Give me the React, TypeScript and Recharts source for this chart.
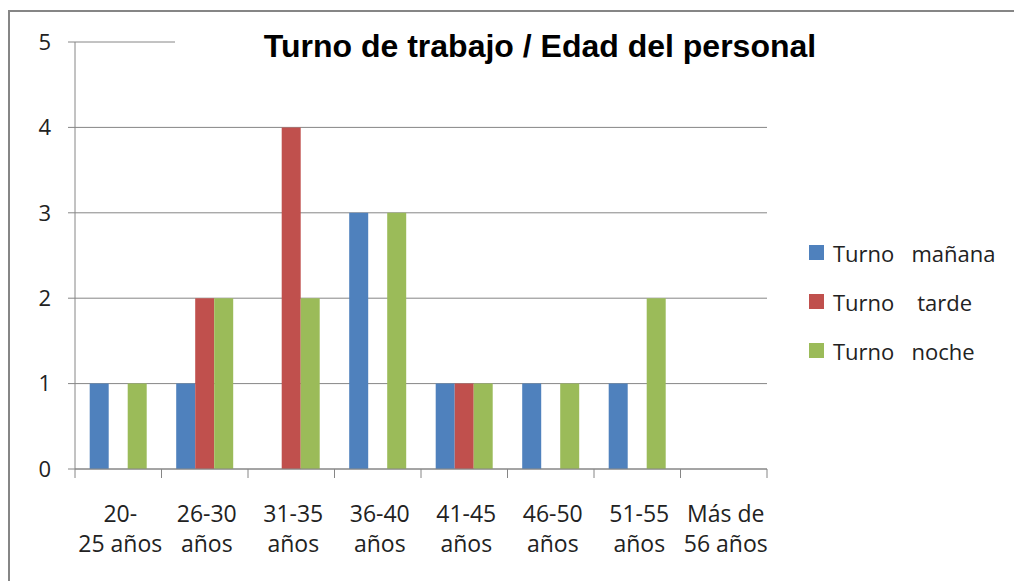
import React from "react";
import {
  BarChart,
  Bar,
  XAxis,
  YAxis,
  CartesianGrid,
} from "recharts";

const CATEGORIES = [
  "20-\n25 años",
  "26-30\naños",
  "31-35\naños",
  "36-40\naños",
  "41-45\naños",
  "46-50\naños",
  "51-55\naños",
  "Más de\n56 años",
];
const MANANA = [1, 1, 0, 3, 1, 1, 1, 0];
const TARDE = [0, 2, 4, 0, 1, 0, 0, 0];
const NOCHE = [1, 2, 2, 3, 1, 1, 2, 0];
const Y_TICKS = [0, 1, 2, 3, 4, 5];

const SERIES = [
  { key: "manana", name: "Turno   mañana", color: "#4F81BD" },
  { key: "tarde", name: "Turno    tarde", color: "#C0504D" },
  { key: "noche", name: "Turno   noche", color: "#9BBB59" },
];

const data = CATEGORIES.map((c, i) => ({
  cat: c,
  manana: MANANA[i],
  tarde: TARDE[i],
  noche: NOCHE[i],
}));

const W = 1014;
const H = 581;
const PLOT_LEFT = 75;
const PLOT_RIGHT = 767;
const PLOT_TOP = 42;
const PLOT_BOTTOM = 469;
const BAND = (PLOT_RIGHT - PLOT_LEFT) / CATEGORIES.length;
const GRAY = "#868686";
const FONT = "'Open Sans', sans-serif";

function CatTick(props: any) {
  const { x, payload, index } = props;
  const lines = String(payload.value).split("\n");
  return (
    <g>
      <line x1={x - BAND / 2} x2={x - BAND / 2} y1={PLOT_BOTTOM} y2={PLOT_BOTTOM + 9} stroke={GRAY} />
      {index === CATEGORIES.length - 1 && (
        <line x1={x + BAND / 2} x2={x + BAND / 2} y1={PLOT_BOTTOM} y2={PLOT_BOTTOM + 9} stroke={GRAY} />
      )}
      <text textAnchor="middle" fill="#222" fontSize={23} fontFamily={FONT}>
        {lines.map((l, i) => (
          <tspan key={i} x={x + 2} y={PLOT_BOTTOM + 53 + i * 30}>
            {l}
          </tspan>
        ))}
      </text>
    </g>
  );
}

export default function App() {
  return (
    <div style={{ position: "fixed", left: 0, top: 0, width: W, height: H, background: "#fff", overflow: "hidden" }}>
      <BarChart
        width={W}
        height={H}
        data={data}
        margin={{ top: PLOT_TOP, right: W - PLOT_RIGHT, bottom: 0, left: 0 }}
        barCategoryGap="17%"
        barGap={0}
      >
        <CartesianGrid vertical={false} stroke={GRAY} />
        <XAxis
          dataKey="cat"
          height={H - PLOT_BOTTOM}
          interval={0}
          tickLine={false}
          axisLine={{ stroke: GRAY }}
          tick={<CatTick />}
        />
        <YAxis
          width={PLOT_LEFT}
          domain={[0, 5]}
          ticks={Y_TICKS}
          tickSize={7}
          tickMargin={17}
          axisLine={{ stroke: GRAY }}
          tickLine={{ stroke: GRAY }}
          tick={{ fill: "#222", fontSize: 22, fontFamily: FONT }}
        />
        {SERIES.map((s) => (
          <Bar key={s.key} dataKey={s.key} name={s.name} fill={s.color} isAnimationActive={false} />
        ))}
      </BarChart>
      <div
        style={{
          position: "absolute",
          left: 809,
          top: 228,
          fontFamily: FONT,
          fontSize: 22,
          color: "#222",
        }}
      >
        {SERIES.map((s) => (
          <div key={s.key} style={{ height: 49, display: "flex", alignItems: "center" }}>
            <span style={{ width: 15, height: 15, background: s.color, marginRight: 9 }} />
            <span style={{ whiteSpace: "pre" }}>{s.name}</span>
          </div>
        ))}
      </div>
      <div
        style={{
          position: "absolute",
          left: 175,
          top: 26,
          width: 730,
          height: 40,
          lineHeight: "40px",
          background: "#fff",
          textAlign: "center",
          fontFamily: "'Liberation Sans', Arial, sans-serif",
          fontWeight: "bold",
          fontSize: 32,
          color: "#000",
        }}
      >
        Turno de trabajo / Edad del personal
      </div>
      <div
        style={{
          position: "absolute",
          left: 8,
          top: 10,
          width: W,
          height: H,
          borderLeft: `2px solid ${GRAY}`,
          borderTop: `2px solid ${GRAY}`,
          pointerEvents: "none",
        }}
      />
    </div>
  );
}
